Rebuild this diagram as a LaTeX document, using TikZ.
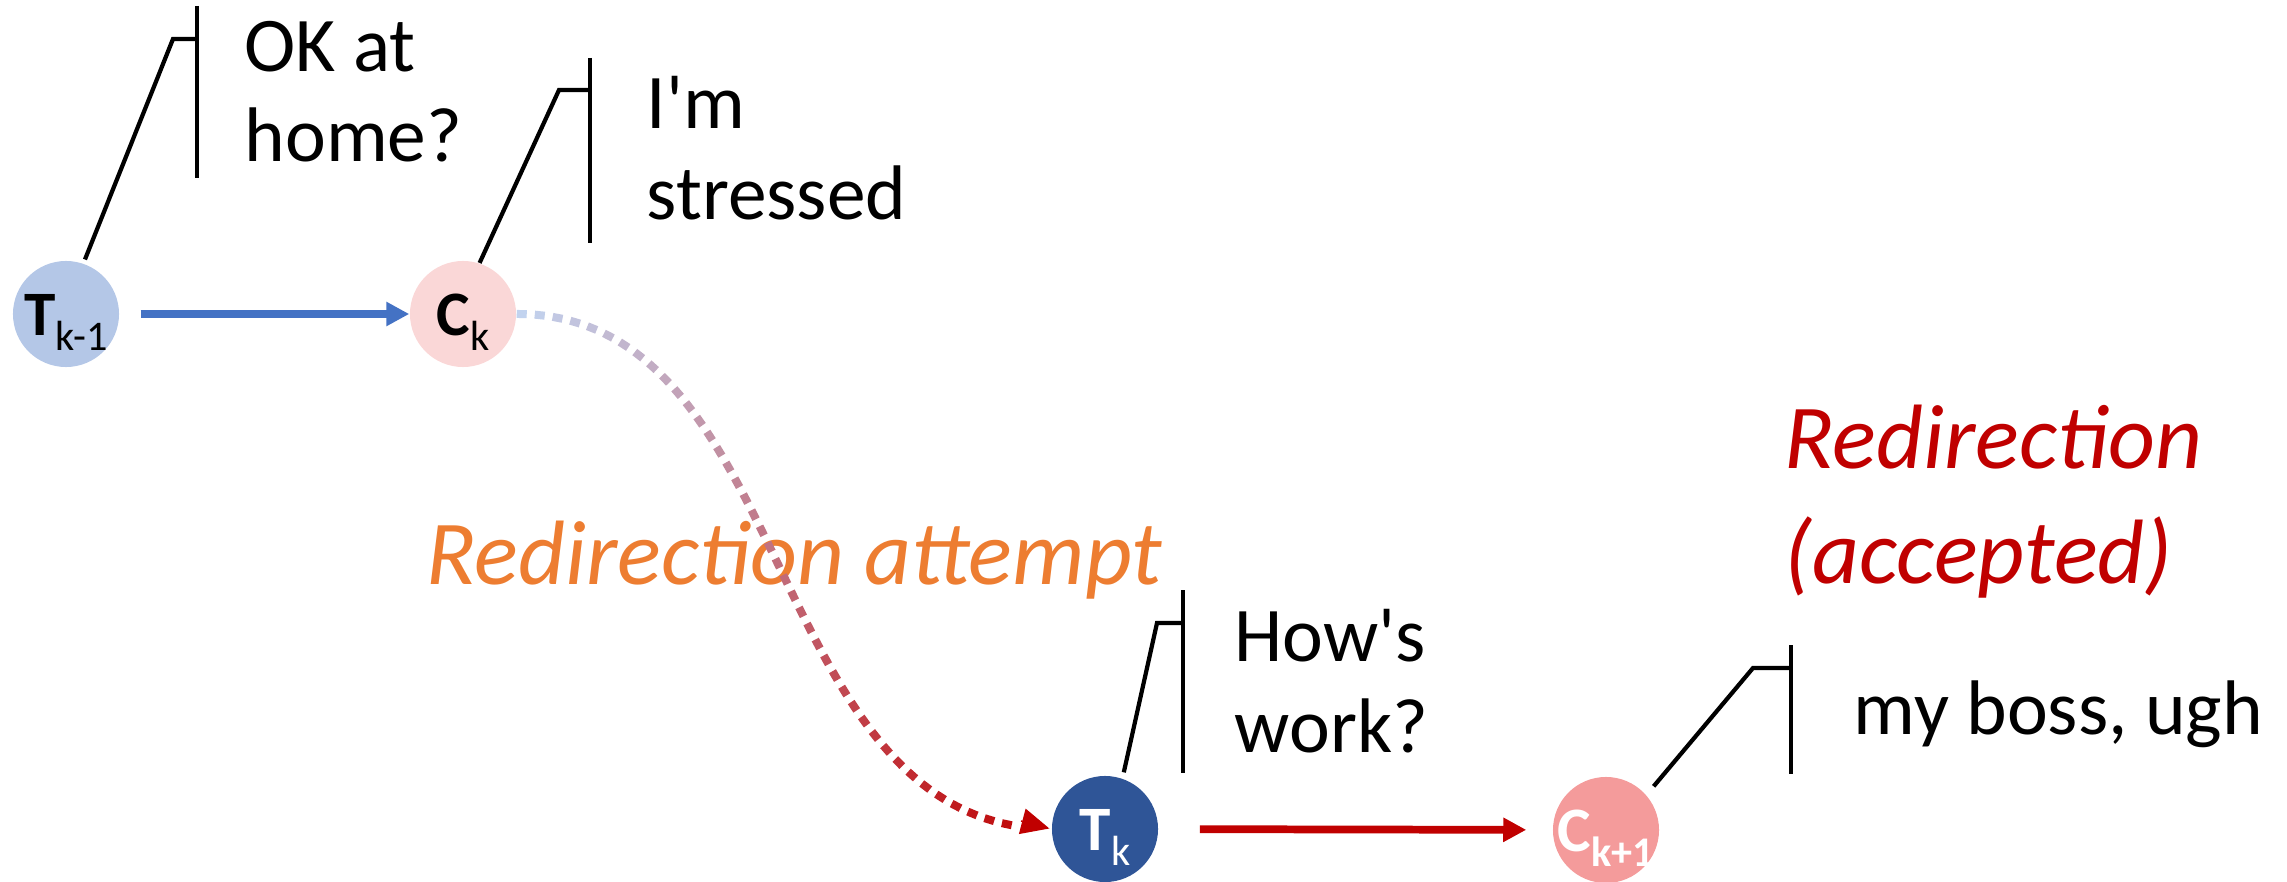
\documentclass[tikz,border=0pt]{standalone}
\usepackage{fontspec}
\setmainfont{Carlito}[Ligatures=TeXOff]
\usetikzlibrary{arrows.meta,decorations.markings}
\definecolor{tlight}{HTML}{B4C7E7}
\definecolor{cpink}{HTML}{FAD7D7}
\definecolor{tdark}{HTML}{2F5597}
\definecolor{csalmon}{HTML}{F49B9B}
\definecolor{arrblue}{HTML}{4472C4}
\definecolor{arrred}{HTML}{C00000}
\definecolor{dotblue}{HTML}{C2D3EF}
\definecolor{attempt}{HTML}{ED7D31}
\newcommand{\subtxt}[1]{\raisebox{-4pt}{\fontsize{12}{12}\selectfont #1}}
\begin{document}
\begin{tikzpicture}[line cap=butt,line join=miter,x=0.01cm,y=-0.01cm,
  turn/.style={circle,inner sep=0pt,minimum size=1.06cm,text height=12.5pt,text depth=0pt,font=\fontsize{18}{18}\selectfont\bfseries},
  say/.style={anchor=base west,inner sep=0pt,align=left,font=\fontsize{22}{25.6}\selectfont},
  tag/.style={anchor=base west,inner sep=0pt,align=left,font=\fontsize{26}{32.7}\selectfont\itshape},
  bar/.style={line width=1.2pt},
  flow/.style={line width=2.2pt,-{Triangle[length=0.23cm,width=0.23cm]}},
  fadedots/.style={decorate,decoration={markings,
    mark=between positions 0.05cm and 0.96 step 0.18cm with {
      \pgfmathtruncatemacro\pc{\pgfkeysvalueof{/pgf/decoration/mark info/distance from start}/\pgfdecoratedpathlength*100}
      \fill[arrred!\pc!dotblue] (-0.05cm,-0.04cm) rectangle (0.05cm,0.04cm);}}}]
\useasboundingbox (0,0) rectangle (2287,882);
\node[turn,fill=tlight] (Tkm1) at (66,314) {T\subtxt{\mdseries k-1}};
\node[turn,fill=cpink] (Ck) at (463,314) {C\subtxt{\mdseries k}};
\node[turn,fill=tdark,text=white] (Tk) at (1105,829) {T\subtxt{\mdseries k}};
\node[turn,fill=csalmon,text=white] (Ckp1) at (1606,830) {C\subtxt{k+1}};
\draw[flow,arrblue,shorten <=0.21cm] (Tkm1) -- (Ck);
\draw[flow,arrred,shorten <=0.41cm,shorten >=0.26cm] (Tk) -- (Ckp1);
\node[tag,text=attempt] (attempt) at (426,584) {Redirection attempt};
\node[tag,text=arrred] (accepted) at (1784,583) {Redirection\\(accepted)};
\path[fadedots] (Ck.east) .. controls (800,314) and (760,826) .. (Tk.west);
\coordinate (tipback) at (1021,821);
\draw[arrred,line width=0.4pt,-{Triangle[length=0.28cm,width=0.26cm]},shorten >=0.02cm] (tipback) -- (Tk.west);
\coordinate (b1) at (173,39);
\coordinate (h1) at (197,39);
\coordinate (v1a) at (197,6);
\coordinate (v1b) at (197,178);
\draw[bar,shorten <=0.04cm] (Tkm1.71) -- (b1) -- (h1);
\draw[bar] (v1a) -- (v1b);
\node[say] (s1) at (244,162) {OK at\\home?};
\coordinate (b2) at (559,90);
\coordinate (h2) at (590,90);
\coordinate (v2a) at (590,58);
\coordinate (v2b) at (590,243);
\draw[bar] (Ck.72) -- (b2) -- (h2);
\draw[bar] (v2a) -- (v2b);
\node[say] (s2) at (646,219) {I'm\\stressed};
\coordinate (b3) at (1157,623);
\coordinate (h3) at (1183,623);
\coordinate (v3a) at (1183,590);
\coordinate (v3b) at (1183,773);
\draw[bar,shorten <=0.06cm] (Tk.71) -- (b3) -- (h3);
\draw[bar] (v3a) -- (v3b);
\node[say] (s3) at (1234,752) {How's\\work?};
\coordinate (b4) at (1753,668);
\coordinate (h4) at (1791,668);
\coordinate (v4a) at (1791,645);
\coordinate (v4b) at (1791,774);
\draw[bar,shorten <=0.11cm] (Ckp1.41) -- (b4) -- (h4);
\draw[bar] (v4a) -- (v4b);
\node[say] (s4) at (1853,734) {my boss, ugh};
\end{tikzpicture}
\end{document}
